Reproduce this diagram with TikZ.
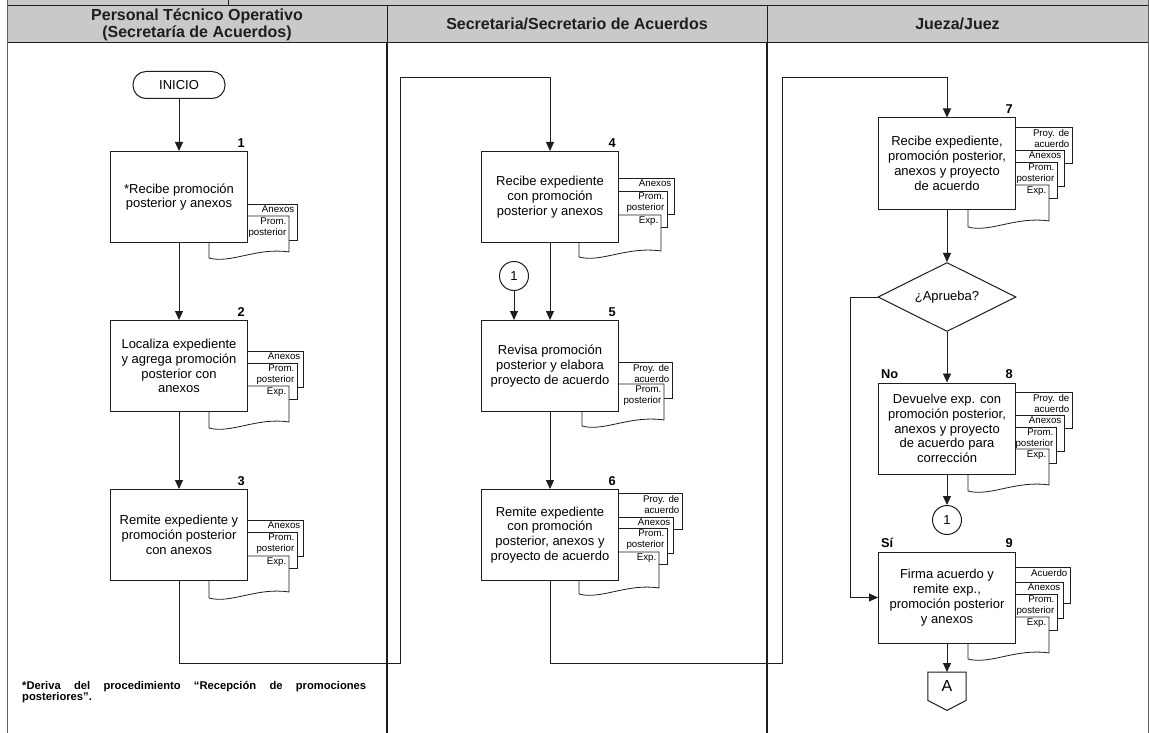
\documentclass[tikz,border=0pt]{standalone}
\usepackage{fontspec}
\setmainfont{Liberation Sans}
\usetikzlibrary{arrows.meta,shapes.geometric,calc}

\definecolor{headgray}{RGB}{200,201,203}
\definecolor{ink}{RGB}{30,30,30}

\tikzset{
  ln/.style={draw=ink, line width=0.9pt},
  arr/.style={ln, -{Triangle[length=9pt,width=8pt]}},
  stepbox/.style={draw=ink, line width=1pt, fill=white, minimum width=137pt,
    minimum height=91pt, inner sep=0pt, align=center,
    font=\fontsize{13}{14.8}\selectfont},
  docline/.style={draw=ink, line width=0.8pt, fill=white},
  doctext/.style={inner sep=0pt, align=right, font=\fontsize{9.7}{11.3}\selectfont},
  num/.style={inner sep=0pt, font=\bfseries\fontsize{12.8}{14}\selectfont},
  lanehead/.style={align=center, text=ink, font=\bfseries\fontsize{16}{17.5}\selectfont},
  terminal/.style={draw=ink, line width=1pt, fill=white, rounded corners=13pt,
    minimum width=92pt, minimum height=27pt, inner sep=0pt,
    font=\fontsize{13}{14}\selectfont},
  decision/.style={draw=ink, line width=1pt, fill=white, diamond, aspect=2,
    minimum width=138pt, minimum height=69pt, inner sep=0pt,
    font=\fontsize{13}{14}\selectfont},
  link/.style={draw=ink, line width=1pt, fill=white, circle, minimum size=29pt,
    inner sep=0pt, font=\fontsize{13}{14}\selectfont},
}

% a sheet lying behind the stack: right edge, top edge, name, text
\newcommand{\backdoc}[4]{%
  \draw[docline] (#1-80,#2) rectangle (#1,#2+36);
  \node[doctext, anchor=north east] (#3) at (#1-2.5,#2+1.8) {#4};
}
% the front sheet with its wavy lower edge: left, right, top, name, text
\newcommand{\frontdoc}[5]{%
  \draw[docline] (#1,#3) -- (#1,#3+42)
    .. controls (#1+22,#3+48) and (#1+48,#3+31) .. (#2,#3+36) -- (#2,#3) -- cycle;
  \node[doctext, anchor=north east] (#4) at (#2-2.5,#3+1.8) {#5};
}

\begin{document}
\begin{tikzpicture}[x=1pt,y=-1pt]
\useasboundingbox (0,0) rectangle (1149,733);
\fill[white] (0,0) rectangle (1149,733);

% ---------- table frame and lane headers ----------
\fill[headgray] (7,0) rectangle (1148,42);
\draw[ln] (7,5) -- (1148,5);
\draw[ln] (7,42) -- (1148,42);
\draw[ln] (228,0) -- (228,5);
\draw[ln] (387,5) -- (387,42);
\draw[ln] (767,5) -- (767,42);
\draw[draw=ink!70, line width=0.8pt] (7,0) -- (7,733);
\draw[draw=ink!70, line width=0.8pt] (1148,0) -- (1148,733);
\draw[draw=ink, line width=1.2pt] (387,42) -- (387,733);
\draw[draw=ink, line width=1.8pt] (767,42) -- (767,733);

\node[lanehead] (h1) at (197,25) {Personal Técnico Operativo\\(Secretaría de Acuerdos)};
\node[lanehead] (h2) at (577,24) {Secretaria/Secretario de Acuerdos};
\node[lanehead] (h3) at (957.5,24) {Jueza/Juez};

% ---------- lane 1 ----------
\node[terminal] (inicio) at (179,85) {INICIO};

\backdoc{297}{204}{d1a}{Anexos}
\frontdoc{209}{289}{216}{d1b}{Prom.\\posterior}
\node[stepbox] (b1) at (179,197) {*Recibe promoción\\posterior y anexos};

\backdoc{303}{351}{d2a}{Anexos}
\backdoc{297}{363}{d2b}{Prom.\\posterior}
\frontdoc{209}{289}{386}{d2c}{Exp.}
\node[stepbox] (b2) at (179,366) {Localiza expediente\\y agrega promoción\\posterior con\\anexos};

\backdoc{303}{520}{d3a}{Anexos}
\backdoc{297}{532}{d3b}{Prom.\\posterior}
\frontdoc{209}{289}{556}{d3c}{Exp.}
\node[stepbox] (b3) at (179,535) {Remite expediente y\\promoción posterior\\con anexos};

% ---------- lane 2 ----------
\backdoc{674}{178}{d4a}{Anexos}
\backdoc{667}{191}{d4b}{Prom.\\posterior}
\frontdoc{579}{661}{215}{d4c}{Exp.}
\node[stepbox] (b4) at (550,197) {Recibe expediente\\con promoción\\posterior y anexos};

\node[link] (k1) at (514,276) {1};

\backdoc{672}{362}{d5a}{Proy. de\\acuerdo}
\frontdoc{582}{664}{384}{d5b}{Prom.\\posterior}
\node[stepbox] (b5) at (550,366) {Revisa promoción\\posterior y elabora\\proyecto de acuerdo};

\backdoc{682}{493}{d6a}{Proy. de\\acuerdo}
\backdoc{673}{517}{d6b}{Anexos}
\backdoc{667}{528}{d6c}{Prom.\\posterior}
\frontdoc{579}{659}{552}{d6d}{Exp.}
\node[stepbox] (b6) at (550,535) {Remite expediente\\con promoción\\posterior, anexos y\\proyecto de acuerdo};

% ---------- lane 3 ----------
\backdoc{1072}{127}{d7a}{Proy. de\\acuerdo}
\backdoc{1064}{150}{d7b}{Anexos}
\backdoc{1057}{162}{d7c}{Prom.\\posterior}
\frontdoc{968}{1049}{185}{d7d}{Exp.}
\node[stepbox] (b7) at (947,163.5) {Recibe expediente,\\promoción posterior,\\anexos y proyecto\\de acuerdo};

\node[decision] (dec) at (947,297) {¿Aprueba?};

\backdoc{1072}{392}{d8a}{Proy. de\\acuerdo}
\backdoc{1064}{415}{d8b}{Anexos}
\backdoc{1056}{427}{d8c}{Prom.\\posterior}
\frontdoc{968}{1049}{449}{d8d}{Exp.}
\node[stepbox] (b8) at (947,428.5) {Devuelve exp. con\\promoción posterior,\\anexos y proyecto\\de acuerdo para\\corrección};

\node[link] (k2) at (947,520) {1};

\backdoc{1070}{567}{d9a}{Acuerdo}
\backdoc{1063}{582}{d9b}{Anexos}
\backdoc{1057}{594}{d9c}{Prom.\\posterior}
\frontdoc{968}{1049}{617}{d9d}{Exp.}
\node[stepbox] (b9) at (947,597.5) {Firma acuerdo y\\remite exp.,\\promoción posterior\\y anexos};

% off-page connector
\node[inner sep=0pt, minimum width=38pt, minimum height=28pt, anchor=north,
  font=\fontsize{16}{18}\selectfont] (offA) at (947,672) {A};
\draw[ln, line width=1pt] (offA.north west) -- (offA.north east) -- (offA.south east)
  -- ($(offA.south)+(0,10)$) -- (offA.south west) -- cycle;

% ---------- step numbers and branch labels ----------
\foreach \b/\t in {b1/1,b2/2,b3/3,b4/4,b5/5,b6/6,b7/7,b8/8,b9/9}
  \node[num, anchor=south east] (n\t) at ($(\b.north east)+(-3,-3.5)$) {\t};
\node[num, anchor=south west] (lno) at ($(b8.north west)+(3,-3.5)$) {No};
\node[num, anchor=south west] (lsi) at ($(b9.north west)+(3,-3.5)$) {Sí};

% ---------- connectors ----------
\coordinate (c1) at (400,663);
\coordinate (c2) at (400,77);
\coordinate (c3) at (782,663);
\coordinate (c4) at (782,77);
\coordinate (c5) at (850,297);

\draw[arr] (inicio) -- (b1);
\draw[arr] (b1) -- (b2);
\draw[arr] (b2) -- (b3);
\draw[arr] (b3.south) |- (c1) -- (c2) -| (b4.north);
\draw[arr] (b4) -- (b5);
\draw[arr] (k1) -- (k1 |- b5.north);
\draw[arr] (b5) -- (b6);
\draw[arr] (b6.south) |- (c3) -- (c4) -| (b7.north);
\draw[arr] (b7) -- (dec);
\draw[arr] (dec) -- (b8);
\draw[arr] (b8) -- (k2);
\draw[arr] (dec.west) -- (c5) |- (b9);
\draw[arr] (b9) -- (offA);

% ---------- footnote ----------
\node[anchor=north west, inner sep=0pt, text width=344pt, align=justify,
  font=\bfseries\fontsize{11.2}{11.2}\selectfont] (fn) at (22,681)
  {*Deriva del procedimiento “Recepción de promociones\linebreak posteriores”.};
\end{tikzpicture}
\end{document}
